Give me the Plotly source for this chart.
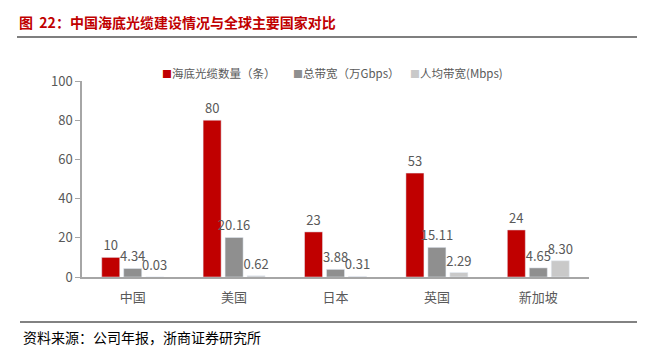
import plotly.graph_objects as go

categories = ["中国", "美国", "日本", "英国", "新加坡"]
cable_count = [10, 80, 23, 53, 24]
total_bw = [4.34, 20.16, 3.88, 15.11, 4.65]
per_capita_bw = [0.03, 0.62, 0.31, 2.29, 8.30]
series_names = ["海底光缆数量（条）", "总带宽（万Gbps）", "人均带宽(Mbps)"]
series_colors = ["#C00000", "#8F8F8F", "#C9C9C9"]
y_ticks = [0, 20, 40, 60, 80, 100]

FONT = "Noto Sans CJK SC, Microsoft YaHei, sans-serif"
LABEL_COLOR = "#595959"

fig = go.Figure()
fig.add_trace(go.Bar(x=categories, y=cable_count, name=series_names[0],
                     marker_color=series_colors[0], texttemplate="%{y}",
                     textposition="outside", cliponaxis=False))
fig.add_trace(go.Bar(x=categories, y=total_bw, name=series_names[1],
                     marker_color=series_colors[1], texttemplate="%{y:.2f}",
                     textposition="outside", cliponaxis=False))
fig.add_trace(go.Bar(x=categories, y=per_capita_bw, name=series_names[2],
                     marker_color=series_colors[2], texttemplate="%{y:.2f}",
                     textposition="outside", cliponaxis=False))

fig.update_traces(textfont=dict(size=13, color=LABEL_COLOR, family=FONT),
                  constraintext="none")

L, R, T, B = 82, 67, 81, 77
W, H = 656, 354
pw, ph = W - L - R, H - T - B


def px_x(px):
    return (px - L) / pw


def px_y(py):
    return (H - B - py) / ph


legend_x = [160, 291, 408]
annotations = [
    dict(text="<b>图  22：中国海底光缆建设情况与全球主要国家对比</b>",
         xref="paper", yref="paper", x=px_x(17), y=px_y(22),
         xanchor="left", yanchor="middle", showarrow=False,
         font=dict(size=14, color="#C00000", family=FONT)),
    dict(text="资料来源：公司年报，浙商证券研究所",
         xref="paper", yref="paper", x=px_x(21), y=px_y(337),
         xanchor="left", yanchor="middle", showarrow=False,
         font=dict(size=14, color="#000000", family=FONT)),
]
for name, color, lx in zip(series_names, series_colors, legend_x):
    annotations.append(dict(
        text=f"<span style='color:{color};font-size:10px'>■</span>{name}",
        xref="paper", yref="paper", x=px_x(lx), y=px_y(73),
        xanchor="left", yanchor="middle", showarrow=False,
        font=dict(size=11.5, color=LABEL_COLOR, family=FONT)))

fig.update_layout(
    width=W, height=H,
    margin=dict(l=L, r=R, t=T, b=B, pad=0),
    paper_bgcolor="white", plot_bgcolor="white",
    barmode="group", bargap=0.35, bargroupgap=0.18,
    font=dict(family=FONT, color=LABEL_COLOR, size=13),
    showlegend=False,
    xaxis=dict(showline=True, linecolor="#A6A6A6", linewidth=1.5,
               ticks="", showgrid=False, tickfont=dict(size=13, color=LABEL_COLOR),
               ticklabelstandoff=8),
    yaxis=dict(range=[0, 100], tickvals=y_ticks, showline=True,
               linecolor="#A6A6A6", linewidth=1.5, ticks="outside",
               ticklen=5, tickcolor="#A6A6A6", showgrid=False, zeroline=False,
               tickfont=dict(size=13, color=LABEL_COLOR)),
    annotations=annotations,
    shapes=[
        dict(type="line", xref="paper", yref="paper", x0=px_x(17), x1=px_x(637),
             y0=px_y(37), y1=px_y(37), line=dict(color="#7F7F7F", width=2)),
        dict(type="line", xref="paper", yref="paper", x0=px_x(20), x1=px_x(637),
             y0=px_y(322), y1=px_y(322), line=dict(color="#595959", width=1.5)),
    ],
)

fig.write_html("out.html")
